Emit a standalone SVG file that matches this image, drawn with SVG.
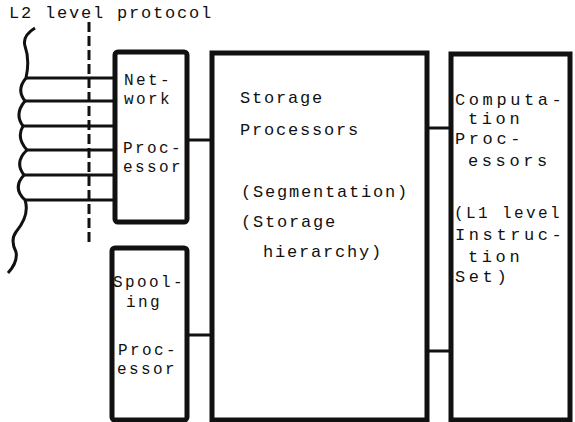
<svg xmlns="http://www.w3.org/2000/svg" width="575" height="422" viewBox="0 0 575 422">
<style>
.box{fill:#fff;stroke:#111;stroke-width:5}
.ln{stroke:#111;stroke-width:3;fill:none}
.t{font-family:"Liberation Mono","DejaVu Sans Mono",monospace;font-size:17px;letter-spacing:1.8px;fill:#111}
.s{font-size:16px;letter-spacing:2.4px}
.c{font-size:17px;letter-spacing:3.6px}
</style>
<rect width="575" height="422" fill="#fff"/>
<text class="t" x="9" y="18">L2 level protocol</text>
<g id="connectors">
<path class="ln" d="M35,28 Q22,36 25,46 Q30,60 26,78 Q16,90 25,101 Q14,114 23,126 Q16,138 27,150 Q14,162 24,175 Q12,188 25,200 Q30,215 16,232 Q10,240 16,252 Q18,262 8,273" stroke-width="3.5"/>
<line class="ln" x1="89" y1="22" x2="89" y2="243" stroke-dasharray="10 4" stroke-width="2.5"/>
<line class="ln" x1="26" y1="78" x2="115" y2="78"/>
<line class="ln" x1="25" y1="101" x2="115" y2="101"/>
<line class="ln" x1="23" y1="126" x2="115" y2="126"/>
<line class="ln" x1="27" y1="150" x2="115" y2="150"/>
<line class="ln" x1="24" y1="175" x2="115" y2="175"/>
<line class="ln" x1="25" y1="200" x2="115" y2="200"/>
<line class="ln" x1="187" y1="140" x2="212" y2="140"/>
<line class="ln" x1="187" y1="335" x2="212" y2="335"/>
<line class="ln" x1="427" y1="128" x2="451" y2="128"/>
<line class="ln" x1="427" y1="351" x2="451" y2="351"/>
</g>
<g id="network">
<rect class="box" x="115" y="52" width="72" height="170" rx="3"/>
<text class="t s" x="124" y="85">Net-</text>
<text class="t s" x="124" y="104">work</text>
<text class="t s" x="123" y="153">Proc-</text>
<text class="t s" x="123" y="172">essor</text>
</g>
<g id="spooling">
<rect class="box" x="112" y="248" width="75" height="172" rx="3"/>
<text class="t s" x="113" y="287">Spool-</text>
<text class="t s" x="126" y="307">ing</text>
<text class="t s" x="118" y="355">Proc-</text>
<text class="t s" x="117" y="374">essor</text>
</g>
<g id="storage">
<rect class="box" x="212" y="53" width="215" height="367"/>
<text class="t" x="240" y="103">Storage</text>
<text class="t" x="240" y="135">Processors</text>
<text class="t" x="241" y="197">(Segmentation)</text>
<text class="t" x="241" y="227">(Storage</text>
<text class="t" x="263" y="257">hierarchy)</text>
</g>
<g id="computation">
<rect class="box" x="451" y="54" width="119" height="366"/>
<text class="t c" x="455" y="105">Computa-</text>
<text class="t c" x="468" y="124">tion</text>
<text class="t c" x="455" y="144">Proc-</text>
<text class="t c" x="468" y="166">essors</text>
<text class="t s" x="454" y="218">(L1 level</text>
<text class="t c" x="455" y="240">Instruc-</text>
<text class="t c" x="468" y="262">tion</text>
<text class="t c" x="455" y="282">Set)</text>
</g>
</svg>
